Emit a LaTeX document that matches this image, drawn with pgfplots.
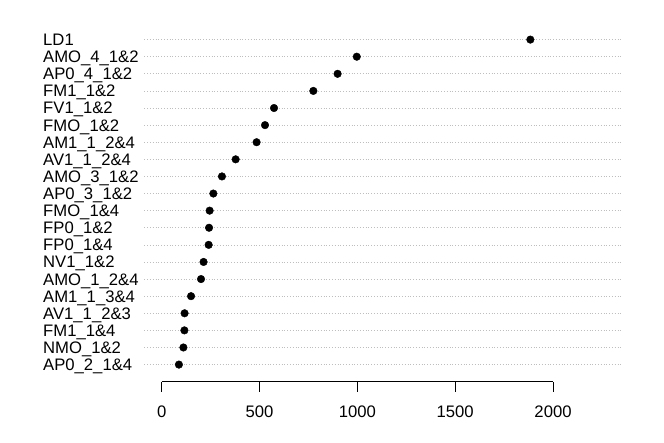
\documentclass[border=0pt]{standalone}
\usepackage{fontspec}
\setmainfont{Liberation Sans}
\usepackage{pgfplots}
\pgfplotsset{compat=1.18}
\definecolor{lgray}{RGB}{190,190,190}
\begin{document}
\fontsize{16.67}{20}\selectfont
\begin{tikzpicture}
\path[use as bounding box] (0,0) rectangle (664pt,443pt);
\begin{axis}[
    at={(144.3pt,61.3pt)}, anchor=south west,
    scale only axis,
    width=478pt, height=359.2pt,
    xmin=-88.9, xmax=2354,
    ymin=0, ymax=21,
    clip=false,
    axis line style={draw=none},
    xtick={0,500,1000,1500,2000},
    xtick pos=bottom,
    tick align=outside,
    major tick length=10pt,
    xtick style={black, line width=0.8pt},
    xticklabel style={inner sep=0pt, anchor=base, yshift=-26pt},
    ytick={1,...,20},
    ytick pos=left,
    ytick style={draw=none},
    yticklabels={AP0\_2\_1\&4, NMO\_1\&2, FM1\_1\&4, AV1\_1\_2\&3, AM1\_1\_3\&4,
                 AMO\_1\_2\&4, NV1\_1\&2, FP0\_1\&4, FP0\_1\&2, FMO\_1\&4,
                 AP0\_3\_1\&2, AMO\_3\_1\&2, AV1\_1\_2\&4, AM1\_1\_2\&4, FMO\_1\&2,
                 FV1\_1\&2, FM1\_1\&2, AP0\_4\_1\&2, AMO\_4\_1\&2, LD1},
    yticklabel style={inner sep=0pt, anchor=base west, xshift=-91.3pt, yshift=-5.95pt},
    ymajorgrids,
    major grid style={lgray, line width=0.7pt, dash pattern=on 0.7pt off 2.1pt},
    tick label style={font=\fontsize{16.67}{20}\selectfont},
    /pgf/number format/assume math mode=true,
    /pgf/number format/1000 sep={},
]
\addplot[black, line width=0.8pt] coordinates {(0,0) (2000,0)};
\addplot[only marks, mark=*, mark size=3.8pt, black] coordinates {
    (88,1) (111,2) (116,3) (117,4) (150,5)
    (201,6) (214,7) (240,8) (242,9) (245,10)
    (264,11) (308,12) (378,13) (485,14) (528,15)
    (574,16) (775,17) (899,18) (997,19) (1884,20)
};
\end{axis}
\end{tikzpicture}
\end{document}
